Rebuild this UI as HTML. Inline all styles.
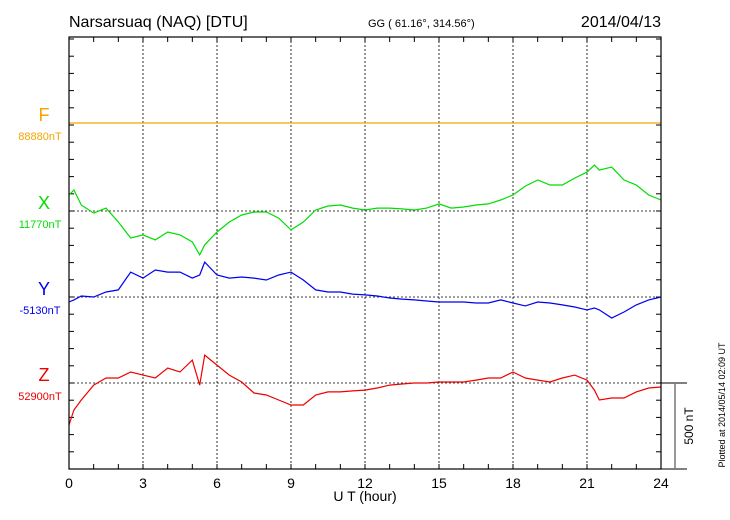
<!DOCTYPE html>
<html><head><meta charset="utf-8"><style>
body{margin:0;background:#fff;}
svg{display:block;font-family:"Liberation Sans",sans-serif;}
</style></head><body>
<svg id="c" width="730" height="520" xmlns="http://www.w3.org/2000/svg">
<text x="69" y="27" font-size="16">Narsarsuaq (NAQ)  [DTU]</text>
<text x="368" y="27" font-size="11">GG ( 61.16°, 314.56°)</text>
<text x="661" y="27" font-size="16" text-anchor="end">2014/04/13</text>
<text x="365" y="501" font-size="14" text-anchor="middle">U T (hour)</text>
<text transform="translate(693,426) rotate(-90)" font-size="12" text-anchor="middle">500 nT</text>
<text transform="translate(725,405) rotate(-90)" font-size="9" text-anchor="middle">Plotted at 2014/05/14 02:09 UT</text>
</svg>
<script>
const hours=[0,0.2,0.5,1,1.5,2,2.5,3,3.5,4,4.5,5,5.3,5.5,6,6.5,7,7.5,8,8.5,9,9.5,10,10.5,11,11.5,12,12.5,13,13.5,14,14.5,15,15.5,16,16.5,17,17.5,18,18.5,19,19.5,20,20.5,21,21.3,21.5,22,22.5,23,23.5,24];
const xVals=[93,122,35,-12,17,-64,-157,-139,-168,-122,-139,-180,-255,-197,-122,-64,-23,-6,-6,-41,-110,-64,6,29,35,17,6,17,17,12,6,17,41,17,23,35,41,64,93,145,180,151,151,191,226,267,238,255,180,151,93,64];
const yVals=[-29,-17,6,0,29,41,145,110,157,145,145,110,128,203,128,110,116,110,99,128,145,99,41,29,29,17,12,6,-6,-12,-17,-23,-29,-29,-29,-35,-35,-17,-35,-52,-29,-35,-46,-58,-75,-64,-75,-122,-87,-46,-17,0];
const zVals=[-244,-157,-99,-12,29,29,64,46,29,87,64,133,-12,162,104,46,6,-58,-70,-99,-128,-128,-70,-52,-52,-46,-41,-29,-12,-6,0,0,6,6,6,17,29,29,64,29,17,6,29,46,17,-41,-99,-87,-87,-52,-29,-23];
const fVals=hours.map(()=>0);
const xTicks=[0,3,6,9,12,15,18,21,24];
const comps=[
 {name:'f',label:'F',base:'88880nT',color:'#f5a400',y0:123,vals:fVals},
 {name:'x',label:'X',base:'11770nT',color:'#00dd00',y0:211,vals:xVals},
 {name:'y',label:'Y',base:'-5130nT',color:'#0000ee',y0:297,vals:yVals},
 {name:'z',label:'Z',base:'52900nT',color:'#ee0000',y0:383,vals:zVals}];
const L=69,R=661,T=37,B=469,PX=86/500;
const sx=h=>L+(R-L)*h/24;
const svg=document.getElementById('c');const NS='http://www.w3.org/2000/svg';
function mk(t,a,p){const e=document.createElementNS(NS,t);for(const k in a)e.setAttribute(k,a[k]);(p||svg).appendChild(e);return e;}
// grid
xTicks.slice(1,-1).forEach(h=>{const e=mk('line',{x1:sx(h),x2:sx(h),y1:T,y2:B,stroke:'#000','stroke-width':0.8,'stroke-dasharray':'2,2'});

});
// minor ticks
for(let h=1;h<24;h++){[[B,B-5],[T,T+5]].forEach(p=>{const e=mk('line',{x1:sx(h),x2:sx(h),y1:p[0],y2:p[1],stroke:'#000'});

});}
for(let y=383;y>T+2;y-=17.2){[[L,L+5],[R,R-5]].forEach(p=>{const e=mk('line',{x1:p[0],x2:p[1],y1:y,y2:y,stroke:'#000'});

});}
for(let y=383+17.2;y<B-2;y+=17.2){[[L,L+5],[R,R-5]].forEach(p=>{const e=mk('line',{x1:p[0],x2:p[1],y1:y,y2:y,stroke:'#000'});

});}
xTicks.forEach(h=>{const t=mk('text',{x:sx(h),y:488,'font-size':14,'text-anchor':'middle'});t.textContent=h;

});
// components
comps.forEach(c=>{
 const b=mk('line',{x1:L,x2:R,y1:c.y0,y2:c.y0,stroke:'#000','stroke-width':0.8,'stroke-dasharray':'2,2'});
 
 
 const pts=hours.map((h,i)=>sx(h).toFixed(1)+','+(c.y0-c.vals[i]*PX).toFixed(1)).join(' ');
 const p=mk('polyline',{points:pts,fill:'none',stroke:c.color,'stroke-width':1.2});
 
 
 const t=mk('text',{x:44,y:c.y0-2,'font-size':18,fill:c.color,'text-anchor':'middle'});t.textContent=c.label;
 
 
 const s=mk('text',{x:40,y:c.y0+17,'font-size':11,fill:c.color,'text-anchor':'middle'});s.textContent=c.base;
 
 
});
// frame
const f=mk('rect',{x:L,y:T,width:R-L,height:B-T,fill:'none',stroke:'#000','stroke-width':1.2});


// scale bar
const g=mk('g',{stroke:'#000'});


mk('line',{x1:R,x2:687,y1:383,y2:383},g);
mk('line',{x1:R,x2:687,y1:469,y2:469},g);
mk('line',{x1:675,x2:675,y1:383,y2:469,stroke:'#777','stroke-width':1.5},g);
</script>
</body></html>
